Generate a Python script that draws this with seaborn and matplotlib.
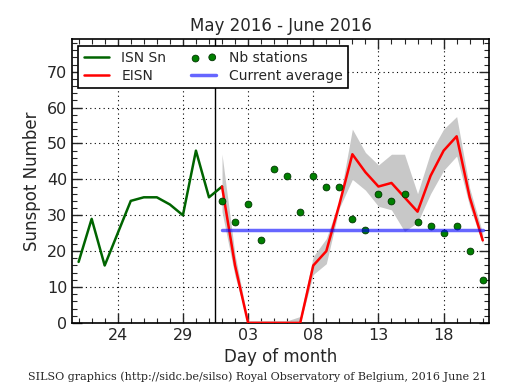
import seaborn as sns
import pandas as pd
import matplotlib
matplotlib.use("Agg")
import matplotlib.pyplot as plt
import matplotlib.dates as mdates
from matplotlib.ticker import MultipleLocator, FixedLocator, FixedFormatter, NullFormatter

# daily international sunspot number, May 21 - June 1
isn_dates = pd.date_range("2016-05-21", "2016-06-01", freq="D")
isn_values = [17, 29, 16, 25, 34, 35, 35, 33, 30, 48, 35, 38]

# estimated sunspot number, June 1 - June 21
eisn_dates = pd.date_range("2016-06-01", "2016-06-21", freq="D")
eisn_values = [38, 16, 0, 0, 0, 0, 0, 16, 20, 33, 47, 42, 38, 39, 35, 31, 41, 48, 52, 35, 23]
eisn_upper = [47, 19, 0.6, 0.6, 0.6, 0.6, 1.8, 18.5, 23.5, 34, 54, 47.5, 44, 47, 47, 36, 47.5, 54, 57.5, 37.5, 25]
eisn_lower = [31, 13, 0, 0, 0, 0, 0, 13.5, 16.5, 32, 40, 37, 32.5, 31.5, 25.5, 28, 36, 42.5, 46.5, 32.5, 22]

# number of stations
nb_stations = [34, 28, 33, 23, 43, 41, 31, 41, 38, 38, 29, 26, 36, 34, 36, 28, 27, 25, 27, 20, 12]
current_average = 26

tick_dates = pd.to_datetime(["2016-05-24", "2016-05-29", "2016-06-03",
                             "2016-06-08", "2016-06-13", "2016-06-18"])
tick_labels = ["24", "29", "03", "08", "13", "18"]

isn_df = pd.DataFrame({"date": isn_dates, "value": isn_values})
eisn_df = pd.DataFrame({"date": eisn_dates, "value": eisn_values,
                        "upper": eisn_upper, "lower": eisn_lower,
                        "nb": nb_stations})
avg_df = pd.DataFrame({"date": eisn_dates, "value": current_average})

sns.set_style("ticks")
plt.rcParams["font.family"] = ["DejaVu Sans"]

fig = plt.figure(figsize=(5.15, 3.9), dpi=100)
ax = fig.add_axes([0.140, 0.172, 0.810, 0.727])

ax.fill_between(eisn_df["date"], eisn_df["lower"], eisn_df["upper"],
                color="#c8c8c8", linewidth=0, zorder=1)
sns.lineplot(data=isn_df, x="date", y="value", color="darkgreen", linewidth=1.8,
             label="ISN Sn", ax=ax, zorder=3)
sns.lineplot(data=eisn_df, x="date", y="value", color="red", linewidth=1.8,
             label="EISN", ax=ax, zorder=3)
sns.scatterplot(data=eisn_df, x="date", y="nb", color="green", edgecolor="#003300",
                s=24, linewidth=0.6, label="Nb stations", ax=ax, zorder=4)
sns.lineplot(data=avg_df, x="date", y="value", color="blue", alpha=0.6, linewidth=2.5,
             label="Current average", ax=ax, zorder=5)
ax.axvline(pd.Timestamp("2016-05-31 12:00"), color="black", linewidth=1.0, zorder=2)

ax.set_xlim(pd.Timestamp("2016-05-20 12:00"), pd.Timestamp("2016-06-21 12:00"))
ax.set_ylim(0, 79)
ax.xaxis.set_major_locator(FixedLocator(mdates.date2num(tick_dates)))
ax.xaxis.set_major_formatter(FixedFormatter(tick_labels))
ax.xaxis.set_minor_locator(mdates.DayLocator())
ax.xaxis.set_minor_formatter(NullFormatter())
ax.yaxis.set_major_locator(MultipleLocator(10))
ax.yaxis.set_minor_locator(MultipleLocator(2))
ax.yaxis.set_minor_formatter(NullFormatter())
ax.tick_params(which="both", direction="in", top=True, right=True, labelsize=11.5)
ax.tick_params(which="major", length=7, width=1)
ax.tick_params(which="minor", length=3.5, width=0.8)
ax.grid(True, which="major", color="black", linestyle=(0, (1, 3)), linewidth=0.8)
for spine in ax.spines.values():
    spine.set_linewidth(1.2)
    spine.set_color("black")

ax.set_title("May 2016 - June 2016", fontsize=12)
ax.set_xlabel("Day of month", fontsize=12)
ax.set_ylabel("Sunspot Number", fontsize=12)

handles, labels = ax.get_legend_handles_labels()
order = [labels.index(n) for n in ["ISN Sn", "EISN", "Nb stations", "Current average"]]
leg = ax.legend([handles[i] for i in order], [labels[i] for i in order],
                loc="upper left", ncol=2, fontsize=10, fancybox=False,
                framealpha=1, edgecolor="black", scatterpoints=2,
                handlelength=1.8, handletextpad=0.9, columnspacing=1.8,
                borderaxespad=0.45, labelspacing=0.25, borderpad=0.4)
leg.get_frame().set_linewidth(1.2)

fig.text(0.5, 0.025, "SILSO graphics (http://sidc.be/silso) Royal Observatory of Belgium, 2016 June 21",
         ha="center", fontsize=8, family="DejaVu Serif")

fig.savefig("out.png", dpi=100)
